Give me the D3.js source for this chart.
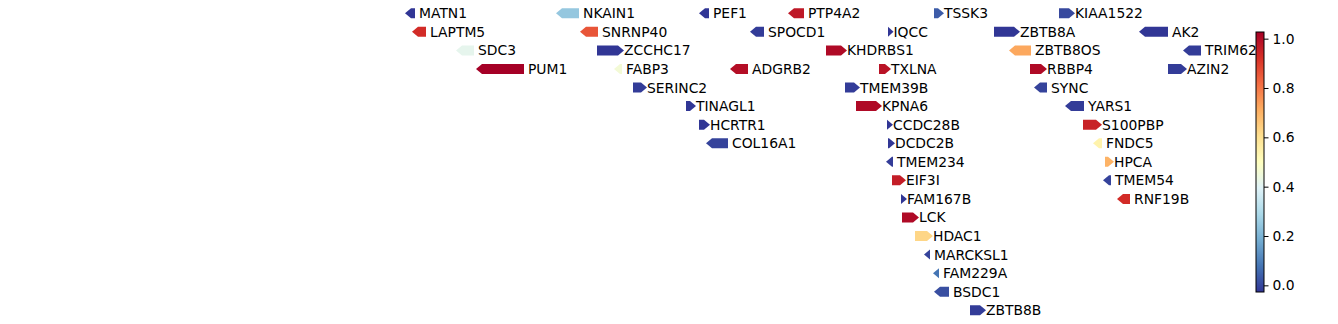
<!DOCTYPE html>
<html>
<head>
<meta charset="utf-8">
<script src="https://cdn.jsdelivr.net/npm/d3@7"></script>
<style>
  html, body { margin: 0; padding: 0; background: #fff; }
  svg { display: block; }
  text { font-family: "DejaVu Sans", sans-serif; font-size: 13.89px; fill: #000; }
</style>
</head>
<body>
<div id="chart"></div>
<script>
// Gene track data (positions in kb, strand +1 / -1, stacking row, colour value).
const geneNames = [
  'MATN1', 'NKAIN1', 'PEF1', 'PTP4A2', 'TSSK3', 'KIAA1522',
  'LAPTM5', 'SNRNP40', 'SPOCD1', 'IQCC', 'ZBTB8A', 'AK2',
  'SDC3', 'ZCCHC17', 'KHDRBS1', 'ZBTB8OS', 'TRIM62',
  'PUM1', 'FABP3', 'ADGRB2', 'TXLNA', 'RBBP4', 'AZIN2',
  'SERINC2', 'TMEM39B', 'SYNC',
  'TINAGL1', 'KPNA6', 'YARS1',
  'HCRTR1', 'CCDC28B', 'S100PBP',
  'COL16A1', 'DCDC2B', 'FNDC5',
  'TMEM234', 'HPCA',
  'EIF3I', 'TMEM54',
  'FAM167B', 'RNF19B',
  'LCK', 'HDAC1', 'MARCKSL1', 'FAM229A', 'BSDC1', 'ZBTB8B',
];
const geneStart = [
  30705, 30856, 30999, 31088, 31234, 31359,
  30712, 30880, 31050, 31188, 31294, 31439,
  30756, 30897, 31126, 31309, 31483,
  30776, 30914, 31030, 31179, 31330, 31468,
  30933, 31145, 31334,
  30986, 31156, 31365,
  30999, 31187, 31383,
  31006, 31188, 31393,
  31186, 31405,
  31192, 31403,
  31201, 31417,
  31202, 31215, 31224, 31233, 31234, 31270,
];
const geneEnd = [
  30715, 30879, 31009, 31104, 31244, 31375,
  30726, 30898, 31064, 31193.5, 31320, 31468,
  30774, 30924, 31147, 31331, 31501,
  30824, 30922, 31048, 31191, 31347, 31487,
  30947, 31160, 31347,
  30996, 31182, 31384,
  31010, 31193, 31402,
  31028, 31195, 31402,
  31193, 31414,
  31206, 31411,
  31207, 31430,
  31219, 31233, 31230, 31239, 31249, 31286,
];
const geneStrand = [
  -1, -1, -1, -1, 1, 1,
  -1, -1, -1, 1, 1, -1,
  -1, 1, 1, -1, -1,
  -1, -1, -1, 1, 1, 1,
  1, 1, -1,
  1, 1, -1,
  1, 1, 1,
  -1, 1, -1,
  -1, 1,
  1, -1,
  1, -1,
  1, 1, -1, -1, -1, 1,
];
const geneRow = [
  0, 0, 0, 0, 0, 0,
  1, 1, 1, 1, 1, 1,
  2, 2, 2, 2, 2,
  3, 3, 3, 3, 3, 3,
  4, 4, 4,
  5, 5, 5,
  6, 6, 6,
  7, 7, 7,
  8, 8,
  9, 9,
  10, 10,
  11, 12, 13, 14, 15, 16,
];
const geneValue = [
  0.0, 0.26, 0.0, 0.95, 0.06, 0.03,
  0.91, 0.84, 0.01, 0.0, 0.0, 0.0,
  0.42, 0.0, 0.98, 0.71, 0.01,
  1.0, 0.46, 0.97, 0.96, 0.98, 0.01,
  0.01, 0.01, 0.02,
  0.0, 0.98, 0.01,
  0.0, 0.0, 0.93,
  0.02, 0.0, 0.54,
  0.01, 0.69,
  0.94, 0.02,
  0.0, 0.91,
  0.98, 0.62, 0.02, 0.1, 0.04, 0.01,
];

// RdYlBu reversed (matplotlib RdYlBu_r anchors).
const cmapColors = [
  '#313695', '#4575b4', '#74add1', '#abd9e9', '#e0f3f8', '#ffffbf',
  '#fee090', '#fdae61', '#f46d43', '#d73027', '#a50026',
];
const cbarTicks = [0.0, 0.2, 0.4, 0.6, 0.8, 1.0];
const cbarLimits = [-0.027, 1.027];

const WIDTH = 1338;
const HEIGHT = 324;
const ARROW_H = 10;
const HEAD_LEN = 6;

const genes = geneNames.map((name, i) => ({
  name,
  start: geneStart[i],
  end: geneEnd[i],
  strand: geneStrand[i],
  row: geneRow[i],
  value: geneValue[i],
}));

const svg = d3.select('#chart').append('svg')
  .attr('width', WIDTH)
  .attr('height', HEIGHT);

const x = d3.scaleLinear().domain([30700, 31600]).range([400, 1300]);
const y = d3.scaleLinear().domain([0, 16]).range([13.3, 310.3]);

const cmapPos = d3.range(cmapColors.length).map((i) => i / (cmapColors.length - 1));
const color = d3.scaleLinear().domain(cmapPos).range(cmapColors).clamp(true);

function arrowPath(d) {
  const x0 = x(d.start);
  const x1 = x(d.end);
  const cy = y(d.row);
  const h = Math.min(HEAD_LEN, x1 - x0);
  const top = cy - ARROW_H / 2;
  const bot = cy + ARROW_H / 2;
  if (d.strand > 0) {
    return `M${x0},${top}L${x1 - h},${top}L${x1},${cy}L${x1 - h},${bot}L${x0},${bot}Z`;
  }
  return `M${x1},${top}L${x0 + h},${top}L${x0},${cy}L${x0 + h},${bot}L${x1},${bot}Z`;
}

const geneGrps = svg.append('g').attr('class', 'genes')
  .selectAll('.gene')
  .data(genes)
  .enter().append('g')
    .attr('class', 'gene');

geneGrps.append('path')
  .attr('d', arrowPath)
  .attr('fill', (d) => color(d.value));

geneGrps.append('text')
  .attr('x', (d) => x(d.end) + (d.strand > 0 ? 0 : 4))
  .attr('y', (d) => y(d.row))
  .attr('dy', '0.36em')
  .text((d) => d.name);

// Colorbar drawn on top, it clips the TRIM62 label like the original.
const cbar = { x: 1256, w: 8, top: 32, bottom: 292 };
const cy = d3.scaleLinear().domain(cbarLimits).range([cbar.bottom, cbar.top]);

const grad = svg.append('defs').append('linearGradient')
  .attr('id', 'cbar-grad')
  .attr('x1', 0).attr('y1', 1).attr('x2', 0).attr('y2', 0);
grad.selectAll('stop')
  .data(cmapColors)
  .enter().append('stop')
    .attr('offset', (d, i) => i / (cmapColors.length - 1))
    .attr('stop-color', (d) => d);

const cbarG = svg.append('g').attr('class', 'colorbar');
cbarG.append('rect')
  .attr('x', cbar.x)
  .attr('y', cbar.top)
  .attr('width', cbar.w)
  .attr('height', cbar.bottom - cbar.top)
  .attr('fill', 'url(#cbar-grad)')
  .attr('stroke', '#000')
  .attr('stroke-width', 1);

const axis = d3.axisRight(cy)
  .tickValues(cbarTicks)
  .tickFormat(d3.format('.1f'))
  .tickSize(4.5)
  .tickPadding(4);

cbarG.append('g')
  .attr('transform', `translate(${cbar.x + cbar.w},0)`)
  .call(axis)
  .call((g) => g.select('.domain').remove())
  .call((g) => g.selectAll('text')
    .style('font-family', '"DejaVu Sans", sans-serif')
    .style('font-size', '13.89px')
    .attr('fill', '#000'));
</script>
</body>
</html>
